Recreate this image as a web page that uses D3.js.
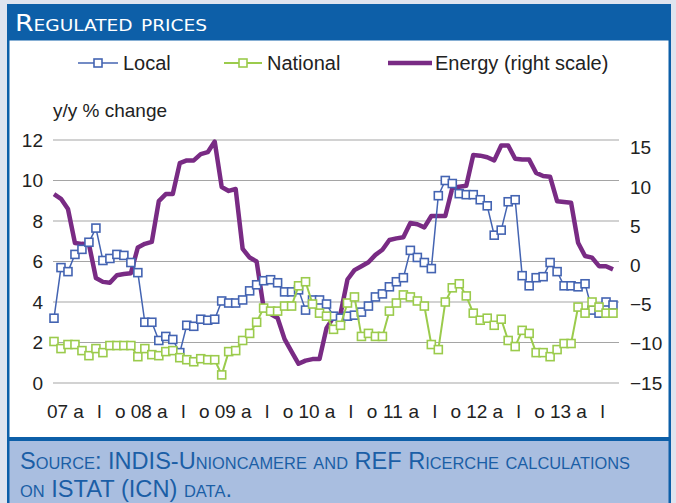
<!DOCTYPE html>
<html>
<head>
<meta charset="utf-8">
<script src="https://cdn.jsdelivr.net/npm/d3@7"></script>
<style>
body { margin: 0; background: #dfe4ef; }
svg text { font-family: "Liberation Sans", Arial, sans-serif; }
.caps { font-family: "Liberation Sans Narrow", "DejaVu Sans Condensed", sans-serif; font-variant: small-caps; }
</style>
</head>
<body>
<svg id="chart" width="676" height="503"></svg>
<script>
// monthly data, Jan 2007 - Sep 2013
const local = [3.2, 5.7, 5.5, 6.35, 6.6, 6.95, 7.65, 6.05, 6.15, 6.35, 6.3, 5.95,
  5.45, 3.0, 3.0, 2.1, 2.3, 2.15, 1.5, 2.85, 2.8, 3.15, 3.1, 3.15,
  4.05, 3.95, 3.95, 4.1, 4.55, 4.85, 5.05, 5.1, 4.95, 4.5, 4.5, 4.6,
  3.6, 4.1, 4.1, 3.9, 3.3, 3.2, 3.3, 3.35, 3.5, 3.8, 4.25, 4.4,
  4.75, 5.0, 5.2, 6.55, 6.2, 5.95, 5.65, 9.25, 10.0, 9.85, 9.35, 9.3,
  9.3, 9.05, 8.75, 7.3, 7.55, 8.95, 9.05, 5.3, 4.8, 5.2, 5.25, 5.95,
  5.5, 4.8, 4.8, 4.75, 4.9, 3.6, 3.45, 4.0, 3.85];

const national = [2.05, 1.7, 1.9, 1.9, 1.6, 1.35, 1.7, 1.5, 1.85, 1.85, 1.85, 1.85,
  1.3, 1.7, 1.4, 1.35, 1.55, 1.6, 1.25, 1.15, 1.05, 1.2, 1.15, 1.15,
  0.4, 1.55, 1.6, 2.1, 2.45, 3.0, 3.7, 3.55, 3.55, 3.8, 3.8, 4.8,
  5.0, 3.9, 3.45, 3.3, 2.65, 2.85, 3.95, 4.25, 2.3, 2.45, 2.3, 2.3,
  3.55, 3.95, 4.35, 4.25, 4.05, 3.8, 1.9, 1.65, 4.0, 4.7, 4.9, 4.3,
  3.45, 3.1, 3.2, 2.85, 3.15, 2.1, 1.8, 2.6, 2.45, 1.5, 1.5, 1.3,
  1.65, 1.95, 1.95, 3.75, 3.45, 4.0, 3.75, 3.45, 3.45];

const energy = [9.1, 8.5, 7.2, 2.85, 2.75, 2.7, -1.6, -2.1, -2.2, -1.25, -1.1, -1.0,
  2.3, 2.75, 3.0, 8.2, 9.1, 9.1, 13.05, 13.4, 13.4, 14.2, 14.45, 15.8,
  10.0, 9.5, 9.75, 2.1, 1.0, 0.5, -5.4, -6.2, -6.7, -9.4, -11.0, -12.55,
  -12.15, -11.95, -11.95, -8.0, -6.6, -6.2, -1.8, -0.6, -0.1, 0.4, 1.35, 2.0,
  3.25, 3.45, 3.6, 5.4, 5.25, 4.85, 6.3, 6.3, 6.3, 9.85, 10.05, 10.15,
  14.1, 14.0, 13.8, 13.4, 15.3, 15.3, 13.6, 13.5, 13.5, 11.8, 11.4, 11.3,
  8.2, 8.1, 8.0, 2.9, 1.2, 1.0, -0.1, -0.1, -0.5];

// one label every 3 months
const tickLabels = ["07","a","l","o","08","a","l","o","09","a","l","o","10","a","l","o",
  "11","a","l","o","12","a","l","o","13","a","l"];

const leftTicks = [0, 2, 4, 6, 8, 10, 12];
const rightTicks = [-15, -10, -5, 0, 5, 10, 15];

const colLocal = "#4464b2";
const colNational = "#9bcb4c";
const colEnergy = "#792b84";

const svg = d3.select("#chart");

// frame
svg.append("rect").attr("x", 7).attr("y", 4).attr("width", 664).attr("height", 505).attr("fill", "#0d5fa8");
svg.append("rect").attr("x", 9.5).attr("y", 40.5).attr("width", 659).attr("height", 396.5).attr("fill", "#fff");
svg.append("rect").attr("x", 9.5).attr("y", 441).attr("width", 659).attr("height", 70).attr("fill", "#a9bee0");

svg.append("text").attr("class", "caps")
  .attr("x", 15).attr("y", 31)
  .attr("fill", "#fff").attr("font-size", 23)
  .attr("textLength", 192).attr("lengthAdjust", "spacingAndGlyphs")
  .text("Regulated prices");

const foot = svg.append("g").attr("class", "caps").attr("fill", "#1b5ea6").attr("font-size", 23);
foot.append("text").attr("x", 20).attr("y", 469)
  .attr("textLength", 610).attr("lengthAdjust", "spacingAndGlyphs")
  .text("Source: INDIS-Unioncamere and REF Ricerche calculations");
foot.append("text").attr("x", 20).attr("y", 497)
  .attr("textLength", 212).attr("lengthAdjust", "spacingAndGlyphs")
  .text("on ISTAT (ICN) data.");

// scales
const x = d3.scaleLinear().domain([0, local.length - 1]).range([54, 613]);
const yL = d3.scaleLinear().domain([0, 12]).range([383, 140]);
const yR = d3.scaleLinear().domain([-15, 16]).range([383, 140]);

// gridlines
svg.append("g").selectAll("line")
  .data(leftTicks).enter().append("line")
  .attr("x1", 53).attr("x2", 619)
  .attr("y1", d => yL(d)).attr("y2", d => yL(d))
  .attr("stroke", "#a5a5a5").attr("stroke-width", 1);

const axL = svg.append("g").attr("transform", "translate(53,0)")
  .call(d3.axisLeft(yL).tickValues(leftTicks).tickSize(0).tickPadding(10));
const axR = svg.append("g").attr("transform", "translate(619,0)")
  .call(d3.axisRight(yR).tickValues(rightTicks).tickSize(0).tickPadding(11));
const axB = svg.append("g").attr("transform", "translate(3,383)")
  .call(d3.axisBottom(x).tickValues(d3.range(0, 81, 3)).tickFormat((d, i) => tickLabels[i]).tickSize(0).tickPadding(22));

[axL, axR, axB].forEach(a => {
  a.select(".domain").remove();
  a.selectAll("text").attr("font-size", 19).attr("fill", "#222")
    .style("font-family", "'Liberation Sans', Arial, sans-serif");
});

svg.append("text").attr("x", 53).attr("y", 117)
  .attr("font-size", 19).attr("fill", "#222").text("y/y % change");

// series
const lineL = d3.line().x((d, i) => x(i)).y(d => yL(d));
const lineR = d3.line().x((d, i) => x(i)).y(d => yR(d));

svg.append("path").datum(energy)
  .attr("d", lineR).attr("fill", "none")
  .attr("stroke", colEnergy).attr("stroke-width", 4.5).attr("stroke-linejoin", "round");

function drawSeries(data, color, w) {
  svg.append("path").datum(data)
    .attr("d", lineL).attr("fill", "none")
    .attr("stroke", color).attr("stroke-width", w);
  svg.append("g").selectAll("rect")
    .data(data).enter().append("rect")
    .attr("x", (d, i) => x(i) - 4).attr("y", d => yL(d) - 4)
    .attr("width", 8).attr("height", 8)
    .attr("fill", "#fff").attr("stroke", color).attr("stroke-width", 1.6);
}
drawSeries(local, colLocal, 1.5);
drawSeries(national, colNational, 2);

// legend
const leg = svg.append("g").attr("font-size", 20).attr("fill", "#222");
leg.append("line").attr("x1", 78).attr("x2", 118).attr("y1", 63).attr("y2", 63).attr("stroke", colLocal).attr("stroke-width", 1.5);
leg.append("rect").attr("x", 94).attr("y", 59).attr("width", 8).attr("height", 8).attr("fill", "#fff").attr("stroke", colLocal).attr("stroke-width", 1.6);
leg.append("text").attr("x", 123).attr("y", 70).text("Local");
leg.append("line").attr("x1", 224).attr("x2", 262).attr("y1", 63).attr("y2", 63).attr("stroke", colNational).attr("stroke-width", 2);
leg.append("rect").attr("x", 239).attr("y", 59).attr("width", 8).attr("height", 8).attr("fill", "#fff").attr("stroke", colNational).attr("stroke-width", 1.6);
leg.append("text").attr("x", 267).attr("y", 70).text("National");
leg.append("line").attr("x1", 388).attr("x2", 432).attr("y1", 63).attr("y2", 63).attr("stroke", colEnergy).attr("stroke-width", 4.5);
leg.append("text").attr("x", 435).attr("y", 70).text("Energy (right scale)");
</script>
</body>
</html>
